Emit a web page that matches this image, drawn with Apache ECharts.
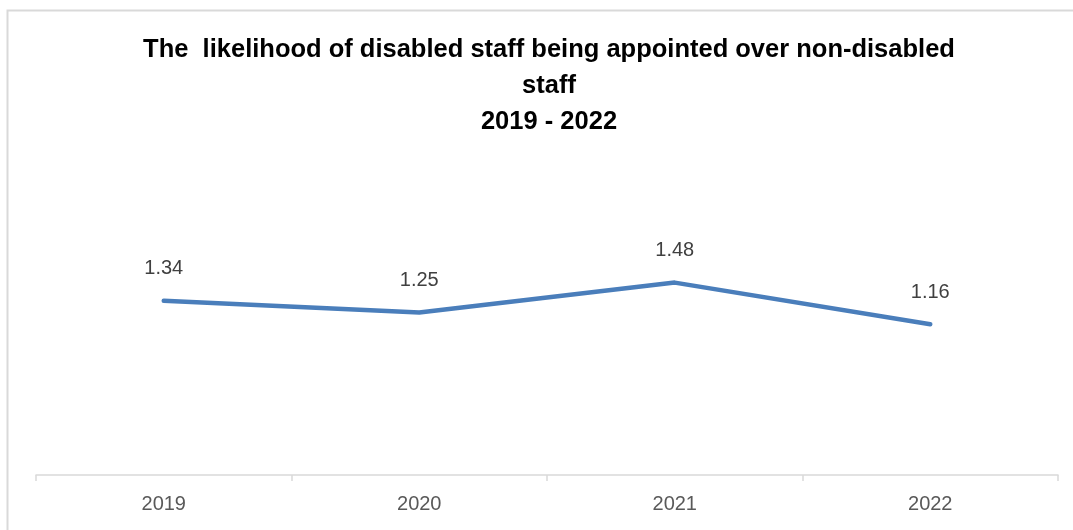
<!DOCTYPE html>
<html>
<head>
<meta charset="utf-8">
<script src="https://cdn.jsdelivr.net/npm/echarts@6/dist/echarts.min.js"></script>
<style>
  html, body { margin: 0; padding: 0; background: #fff; }
  #main { width: 1073px; height: 530px; }
</style>
</head>
<body>
<div id="main"></div>
<script>
// data
var years = ["2019", "2020", "2021", "2022"];
var likelihood = [1.34, 1.25, 1.48, 1.16];

var titleText = "The  likelihood of disabled staff being appointed over non-disabled\nstaff\n2019 - 2022";

var chart = echarts.init(document.getElementById("main"));

chart.setOption({
  animation: false,
  backgroundColor: "#fff",
  title: {
    text: titleText,
    left: 544,
    top: 27,
    textAlign: "center",
    textStyle: {
      fontFamily: "Liberation Sans",
      fontWeight: "bold",
      fontSize: 25.5,
      color: "#000",
      lineHeight: 36
    }
  },
  // outer chart frame (only top/left edge visible in the crop)
  graphic: [{
    type: "rect",
    shape: { x: 7.5, y: 10.5, width: 1200, height: 700 },
    style: { fill: "none", stroke: "#d9d9d9", lineWidth: 2 },
    silent: true
  }],
  grid: { left: 36, right: 15, top: 267, bottom: 55 },
  xAxis: {
    type: "category",
    data: years,
    boundaryGap: true,
    axisLine: { lineStyle: { color: "#d9d9d9", width: 1.5 } },
    axisTick: { show: true, length: 6, lineStyle: { color: "#d9d9d9", width: 1.5 } },
    axisLabel: {
      margin: 19,
      fontFamily: "Liberation Sans",
      fontSize: 20,
      color: "#595959"
    }
  },
  yAxis: {
    type: "value",
    min: 0,
    max: 1.6,
    show: false,
    splitLine: { show: false }
  },
  series: [{
    type: "line",
    data: likelihood,
    symbol: "circle",
    symbolSize: 2,
    showSymbol: true,
    itemStyle: { color: "rgba(0,0,0,0)", borderWidth: 0 },
    lineStyle: { color: "#4a7ebb", width: 4.5, cap: "round", join: "round" },
    label: {
      show: true,
      position: "top",
      distance: 21,
      fontFamily: "Liberation Sans",
      fontSize: 20,
      color: "#404040",
      formatter: function (p) { return p.value.toFixed(2); }
    }
  }]
});
</script>
</body>
</html>
